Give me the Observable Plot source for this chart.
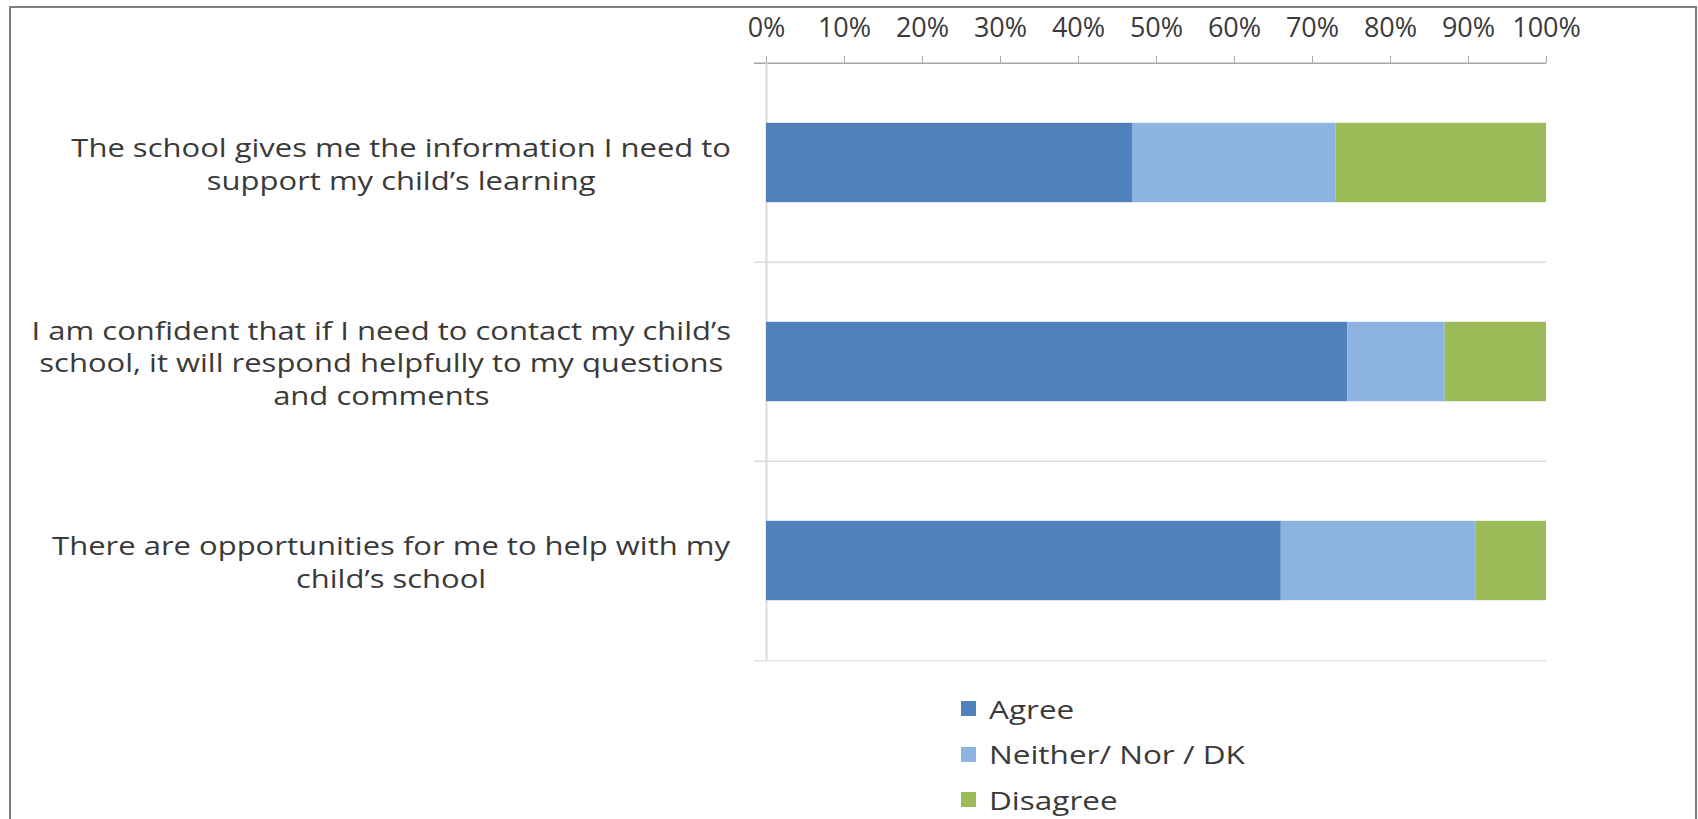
<!DOCTYPE html>
<html><head><meta charset="utf-8">
<script src="https://cdn.jsdelivr.net/npm/d3@7"></script>
<script src="https://cdn.jsdelivr.net/npm/@observablehq/plot@0.6"></script>
<style>
html,body{margin:0;padding:0;background:#fff;width:1698px;height:819px;overflow:hidden;}
#chart{position:absolute;left:0;top:0;}
#legend{position:absolute;left:961px;top:686px;width:500px;}
#frame{position:absolute;left:9px;top:6px;width:1684px;height:840px;border:2px solid #7f7f7f;border-bottom:none;pointer-events:none;}
.lg-swatch{height:45.5px;margin:0 !important;padding:0 !important;}
.lg-swatch-label{transform:scaleX(1.26);transform-origin:left center;overflow:visible !important;}
</style></head><body>
<div id="chart"></div><div id="legend"></div><div id="frame"></div>
<script>
const categories = ["info", "contact", "help"];
const categoryLines = [
  ["The school gives me the information I need to", "support my child’s learning"],
  ["I am confident that if I need to contact my child’s", "school, it will respond helpfully to my questions", "and comments"],
  ["There are opportunities for me to help with my", "child’s school"]
];
const series = ["Agree", "Neither/ Nor / DK", "Disagree"];
const agree = [47, 74.5, 66];
const neither = [26, 12.5, 25];
const disagree = [27, 13, 9];
const xTicks = [0, 10, 20, 30, 40, 50, 60, 70, 80, 90, 100];
const colors = ["#4f81bd", "#8db3e2", "#9bbb59"];

const rows = categories.flatMap((c, i) => [
  {category: c, series: series[0], value: agree[i]},
  {category: c, series: series[1], value: neither[i]},
  {category: c, series: series[2], value: disagree[i]}
]);

const W = 1698, H = 680, mt = 62, mb = 20, ml = 766, mr = 152;
const step = (H - mt - mb) / categories.length;
const font = "'Open Sans', sans-serif";

const chart = Plot.plot({
  width: W, height: H, marginTop: mt, marginBottom: mb, marginLeft: ml, marginRight: mr,
  style: {background: "transparent", fontFamily: font, fontSize: "25px", color: "#3a3a3a"},
  x: {domain: [0, 100], axis: null},
  y: {domain: categories, padding: 0, axis: null},
  color: {domain: series, range: colors},
  marks: [
    Plot.ruleY(categories, {y: d => d, dy: -step / 2, x1: 0, x2: 100, insetLeft: -12,
      stroke: (d, i) => i === 0 ? "#a6a6a6" : "#dcdcdc", strokeWidth: 1.5}),
    Plot.ruleY(categories.slice(-1), {y: d => d, dy: step / 2, x1: 0, x2: 100, insetLeft: -12, stroke: "#e3e3e3", strokeWidth: 1.5}),
    Plot.ruleX([0], {stroke: "#dcdcdc", strokeWidth: 2}),
    Plot.barX(rows, Plot.stackX({y: "category", x: "value", fill: "series", order: series, insetTop: 0.3 * step, insetBottom: 0.3 * step})),
    Plot.axisX({anchor: "top", ticks: xTicks, tickSize: 7, tickPadding: 19, tickFormat: d => d + "%",
      label: null, stroke: "#a6a6a6", fill: "#3a3a3a", fontSize: 27}),
    Plot.text(categories, {y: d => d, frameAnchor: "left", dx: -300, textAnchor: "middle",
      text: (d, i) => categoryLines[i].join("\n"), lineHeight: 1.3, fill: "#3a3a3a", fontSize: 25})
  ]
});
document.getElementById("chart").appendChild(chart);

// stretch each centered label block horizontally and right-align it to a common edge
const rightEdge = 731, stretch = 1.24;
chart.querySelectorAll('g[aria-label="text"] text').forEach(el => {
  const base = el.getAttribute("transform") || "";
  el.setAttribute("transform", base + ` scale(${stretch},1)`);
  const r = el.getBoundingClientRect();
  const shift = rightEdge - r.right;
  el.setAttribute("transform", base + ` translate(${shift},0) scale(${stretch},1)`);
});

const legend = Plot.legend({
  color: {domain: series, range: colors}, legend: "swatches", columns: 1,
  swatchSize: 15, className: "lg",
  style: {fontFamily: font, fontSize: "25px", color: "#3a3a3a"}
});
document.getElementById("legend").appendChild(legend);
</script>
</body></html>
